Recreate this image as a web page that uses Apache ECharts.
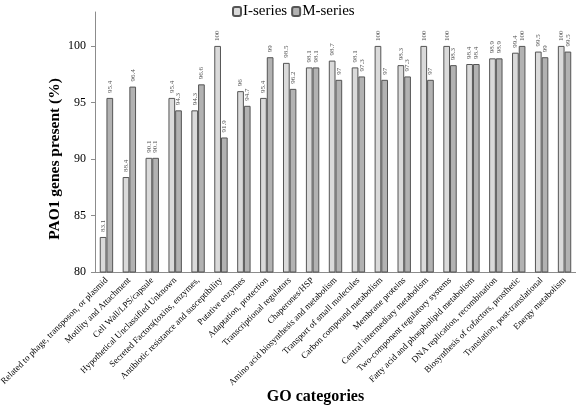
<!DOCTYPE html>
<html><head><meta charset="utf-8">
<script src="https://cdn.jsdelivr.net/npm/echarts@6/dist/echarts.min.js"></script>
<style>html,body{margin:0;padding:0;background:#fff}#c{width:576px;height:406px}</style>
</head><body><div id="c"></div>
<script>
const categories = [
  "Related to phage, transposon, or plasmid",
  "Motility and Attachment",
  "Cell Wall/LPS/capsule",
  "Hypothetical Unclassified Unknown",
  "Secreted Factors(toxins, enzymes,",
  "Antibiotic resistance and susceptibility",
  "Putative enzymes",
  "Adaptation, protection",
  "Transcriptional regulators",
  "Chaperones/HSP",
  "Amino acid biosynthesis and metabolism",
  "Transport of small molecules",
  "Carbon compound metabolism",
  "Membrane proteins",
  "Central intermediary metabolism",
  "Two-component regulatory systems",
  "Fatty acid and phospholipid metabolism",
  "DNA replication, recombination",
  "Biosynthesis of cofactors, prosthetic",
  "Translation, post-translational",
  "Energy metabolism"
];
const iSeries = [83.1, 88.4, 90.1, 95.4, 94.3, 100, 96, 95.4, 98.5, 98.1, 98.7, 98.1, 100, 98.3, 100, 100, 98.4, 98.9, 99.4, 99.5, 100];
const mSeries = [95.4, 96.4, 90.1, 94.3, 96.6, 91.9, 94.7, 99, 96.2, 98.1, 97, 97.3, 97, 97.3, 97, 98.3, 98.4, 98.9, 100, 99, 99.5];
const yTicks = [80, 85, 90, 95, 100];

const serif = "Liberation Serif";
const chart = echarts.init(document.getElementById('c'), null, {renderer: 'canvas'});
const lbl = {
  show: true, position: 'top', rotate: 90, align: 'left', verticalAlign: 'middle',
  distance: 5, fontSize: 7, fontFamily: serif, color: '#555'
};
chart.setOption({
  animation: false,
  legend: {
    top: -1, left: 227, itemWidth: 8, itemHeight: 9, itemGap: 4,
    textStyle: {fontFamily: serif, fontSize: 15, color: '#000', padding: [0, 0, 0, -3]},
    data: ['I-series', 'M-series']
  },
  grid: {left: 95, right: 0, top: 12, bottom: 134, containLabel: false, outerBoundsMode: 'none'},
  xAxis: {
    type: 'category', data: categories, name: 'GO categories',
    nameLocation: 'middle', nameGap: 117, nameMoveOverlap: false,
    nameTextStyle: {fontFamily: serif, fontSize: 16, fontWeight: 'bold', color: '#000', padding: [0, 40, 0, 0]},
    axisLine: {lineStyle: {color: '#8c8c8c'}},
    axisTick: {show: false},
    axisLabel: {interval: 0, rotate: 45, fontFamily: serif, fontSize: 9, color: '#000', margin: 7}
  },
  yAxis: {
    type: 'value', min: 80, max: 103,
    name: 'PAO1 genes present (%)', nameLocation: 'middle', nameGap: 32, nameMoveOverlap: false,
    nameTextStyle: {fontFamily: serif, fontSize: 15.5, fontWeight: 'bold', color: '#000', padding: [0, 34, 0, 0]},
    axisLine: {show: true, lineStyle: {color: '#8c8c8c'}},
    axisTick: {show: true, length: 4, customValues: yTicks, lineStyle: {color: '#8c8c8c'}},
    axisLabel: {customValues: yTicks, fontFamily: serif, fontSize: 12, color: '#000', margin: 9},
    splitLine: {show: false}
  },
  series: [
    {name: 'I-series', type: 'bar', data: iSeries, barWidth: 6.7, barGap: '0%',
     itemStyle: {color: '#dadada', borderColor: '#555', borderWidth: 1}, label: lbl},
    {name: 'M-series', type: 'bar', data: mSeries, barWidth: 6.7, barGap: '0%',
     itemStyle: {color: '#b2b2b2', borderColor: '#555', borderWidth: 1}, label: lbl}
  ]
});
</script></body></html>
